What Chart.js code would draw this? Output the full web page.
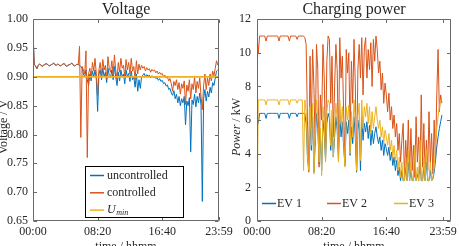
<!DOCTYPE html>
<html><head><meta charset="utf-8">
<script src="https://cdn.jsdelivr.net/npm/chart.js@4/dist/chart.umd.min.js"></script>
<style>
html,body{margin:0;padding:0;background:#fff;overflow:hidden}
#wrap{position:relative;width:459px;height:246px;background:#fff}
#c1{position:absolute;left:0;top:0}
#c2{position:absolute;left:229px;top:0}
</style></head><body>
<div id="wrap"><canvas id="c1" width="236" height="246"></canvas><canvas id="c2" width="230" height="246"></canvas></div>
<script>
// ---------- data ----------
const stepMinutes = 10; // sample spacing of every series below
const xTickValues = [0, 500, 1000, 1439];
const xTickLabels = ['00:00', '08:20', '16:40', '23:59'];
const voltTickValues = [0.65, 0.70, 0.75, 0.80, 0.85, 0.90, 0.95, 1.00];
const powerTickValues = [0, 2, 4, 6, 8, 10, 12];
const voltSeriesNames = ['uncontrolled', 'controlled'];
const evNames = ['EV 1', 'EV 2', 'EV 3'];
const uMin = 0.90;

const voltUncontrolled = [0.977,
0.921,0.919,0.914,0.920,0.922,0.921,0.918,0.920,0.921,0.923,
0.922,0.920,0.919,0.921,0.922,0.924,0.921,0.920,0.922,0.921,
0.919,0.920,0.922,0.923,0.921,0.918,0.920,0.921,0.922,0.924,
0.921,0.919,0.920,0.922,0.921,
0.920,0.918,0.915,0.905,0.900,0.912,0.895,0.885,0.905,0.893,
0.910,0.900,0.912,0.895,0.840,0.905,0.912,0.895,0.915,0.900,
0.908,0.890,0.915,0.902,0.898,0.912,0.895,0.918,0.900,0.885,
0.908,0.893,0.912,0.900,0.905,0.888,0.912,0.900,0.906,0.892,
0.910,0.895,0.900,0.882,0.905,0.875,0.895,0.880,0.900,0.903,
0.906,0.900,0.904,0.901,0.903,0.898,0.902,0.899,0.900,0.897,
0.899,0.894,0.897,0.892,0.894,0.888,0.890,0.884,0.886,0.878,
0.880,0.872,0.868,0.876,0.862,0.870,0.855,0.866,0.850,0.862,
0.855,0.866,0.817,0.858,0.850,0.864,0.770,0.860,0.852,0.870,
0.848,0.866,0.855,0.872,0.850,0.684,0.862,0.878,0.858,0.875,
0.865,0.882,0.872,0.890,0.885,0.898,0.910,0.912];

const voltControlled = [0.977,
0.921,0.919,0.914,0.920,0.922,0.921,0.918,0.920,0.921,0.923,
0.922,0.920,0.919,0.921,0.922,0.924,0.921,0.920,0.922,0.921,
0.919,0.920,0.922,0.923,0.921,0.918,0.920,0.921,0.922,0.924,
0.921,0.919,0.920,0.922,0.921,
0.953,0.795,0.918,0.912,0.905,0.945,0.760,0.905,0.915,0.898,
0.925,0.910,0.932,0.905,0.868,0.912,0.925,0.902,0.930,0.912,
0.920,0.896,0.935,0.915,0.908,0.928,0.903,0.938,0.912,0.895,
0.925,0.908,0.932,0.915,0.920,0.900,0.930,0.912,0.925,0.905,
0.932,0.910,0.918,0.895,0.928,0.905,0.922,0.912,0.920,0.915,
0.918,0.910,0.916,0.912,0.914,0.908,0.913,0.910,0.912,0.907,
0.910,0.905,0.908,0.904,0.906,0.900,0.903,0.898,0.900,0.893,
0.897,0.888,0.875,0.892,0.885,0.895,0.878,0.890,0.870,0.888,
0.880,0.893,0.852,0.886,0.875,0.895,0.862,0.888,0.878,0.900,
0.872,0.892,0.880,0.898,0.866,0.843,0.885,0.905,0.878,0.898,
0.885,0.905,0.893,0.910,0.902,0.915,0.928,0.920];

const ev1Power = [
6.4,5.8,6.4,6.4,6.4,6.4,6.4,6.1,6.4,6.4,
6.4,6.4,6.4,6.4,6.4,6.4,6.4,6.1,6.4,6.4,
6.4,6.4,6.4,6.4,6.4,6.1,6.4,6.4,6.4,6.4,
6.4,6.2,6.4,6.4,6.4,6.4,6.4,6.4,5.8,3.8,
3.0,6.0,4.2,6.2,2.9,4.6,6.4,5.5,3.4,5.0,
3.0,6.0,5.2,3.6,5.8,6.4,6.1,4.2,5.8,3.8,
5.0,6.2,5.4,3.6,6.3,5.0,5.9,4.4,3.3,5.9,
5.2,6.0,3.9,5.6,4.6,6.2,5.0,2.9,5.4,6.0,
3.0,6.2,4.8,5.8,5.3,5.9,4.9,5.7,4.5,5.4,
4.6,5.2,5.6,5.0,4.6,5.0,4.2,4.8,3.9,4.6,
4.3,3.9,4.4,3.6,4.1,3.3,3.8,3.0,3.6,2.7,
3.2,2.4,3.0,2.4,2.4,3.2,2.4,3.5,2.4,3.0,
2.4,2.4,3.8,2.4,2.8,2.4,3.9,2.4,2.4,3.2,
2.4,3.5,2.4,2.4,3.0,2.4,2.5,2.9,3.6,4.4,
5.0,5.5,5.9,6.3];

const ev2Power = [
11.0,10.0,11.0,11.0,11.0,11.0,11.0,10.7,11.0,11.0,
11.0,11.0,11.0,11.0,11.0,11.0,11.0,10.7,11.0,11.0,
11.0,11.0,11.0,11.0,11.0,10.7,11.0,11.0,11.0,11.0,
11.0,10.8,11.0,11.0,11.0,11.0,11.0,10.9,10.5,6.0,
2.9,9.8,5.5,10.2,8.0,4.5,10.5,9.0,3.2,7.5,
6.0,10.5,8.5,4.0,9.5,11.0,10.8,7.0,9.8,5.0,
8.0,10.5,9.0,4.2,10.9,8.5,9.8,6.5,3.5,10.2,
8.8,10.0,5.0,9.5,7.0,10.8,8.2,3.0,9.0,10.5,
8.5,10.9,7.5,10.3,10.9,8.5,10.2,9.0,10.6,8.0,
10.8,9.5,11.0,10.2,8.8,9.5,7.8,8.8,7.0,8.2,
7.5,6.5,7.6,6.0,6.8,5.5,6.3,5.0,5.8,4.2,
5.2,3.5,4.8,5.8,2.6,4.8,3.2,6.0,2.8,5.5,
3.0,4.5,2.6,6.2,3.5,5.0,2.8,7.5,3.2,5.8,
2.7,4.8,3.0,6.5,3.5,5.2,2.8,6.0,3.5,7.5,
10.2,6.5,7.5,7.0];

const ev3Power = [
0.0,7.2,7.2,7.2,7.2,7.2,7.2,6.9,7.2,7.2,
7.2,7.2,7.2,7.2,7.2,7.2,7.2,6.9,7.2,7.2,
7.2,7.2,7.2,7.2,7.2,6.9,7.2,7.2,7.2,7.2,
7.2,7.0,7.2,7.2,7.2,7.2,3.0,7.2,6.5,4.0,
3.0,6.8,4.5,7.0,2.8,5.0,7.2,6.2,3.5,5.5,
2.7,6.8,5.8,3.5,6.5,7.2,7.0,4.5,6.6,3.8,
5.5,7.0,6.0,3.5,7.2,5.8,6.8,4.8,3.2,6.8,
6.0,6.9,4.0,6.5,5.0,7.2,5.8,3.0,6.2,7.0,
3.6,7.2,5.5,6.8,6.2,7.0,5.8,6.8,5.2,6.5,
5.5,6.2,6.8,6.0,5.5,6.0,5.0,5.6,4.6,5.4,
5.0,4.5,5.2,4.2,4.8,3.8,4.5,3.5,4.2,3.0,
3.8,2.6,3.5,2.4,2.4,3.8,2.4,4.2,2.4,3.5,
2.4,2.4,4.5,2.4,3.2,2.4,4.8,2.4,2.4,3.8,
2.4,4.2,2.4,2.4,3.5,2.4,2.6,3.2,4.5,5.5,
6.2,6.8,7.2,7.2];

// ---------- styling ----------
const BLUE = '#0072BD', ORANGE = '#D95319', YELLOW = '#EDB120';
const TEXT = '#262626', FRAME = '#6a6a6a';
const SERIF = "'Liberation Serif','Times New Roman',serif";
Chart.defaults.font.family = SERIF;
Chart.defaults.color = TEXT;

function toPoints(values) { return values.map((v, i) => ({ x: i * stepMinutes, y: v })); }

const frameTicks = {
  id: 'frameTicks',
  afterDatasetsDraw(chart) {
    const { ctx, chartArea: a, scales: { x, y } } = chart;
    ctx.save();
    ctx.strokeStyle = FRAME; ctx.lineWidth = 1;
    const L = Math.round(a.left) + 0.5, R = Math.round(a.right) - 0.5,
          T = Math.round(a.top) + 0.5, B = Math.round(a.bottom) - 0.5;
    ctx.beginPath();
    ctx.rect(L, T, R - L, B - T);
    const len = 3.5;
    x.ticks.forEach(t => {
      const p = Math.round(x.getPixelForValue(t.value)) + 0.5;
      ctx.moveTo(p, B); ctx.lineTo(p, B - len);
      ctx.moveTo(p, T); ctx.lineTo(p, T + len);
    });
    y.ticks.forEach(t => {
      const p = Math.round(y.getPixelForValue(t.value)) + 0.5;
      ctx.moveTo(L, p); ctx.lineTo(L + len, p);
      ctx.moveTo(R, p); ctx.lineTo(R - len, p);
    });
    ctx.stroke();
    ctx.restore();
  }
};

const axisTitles = {
  id: 'axisTitles',
  afterDraw(chart, args, opts) {
    const { ctx, chartArea: a } = chart;
    ctx.save();
    ctx.fillStyle = TEXT; ctx.textBaseline = 'alphabetic';
    ctx.font = `12px ${SERIF}`; ctx.textAlign = 'center';
    ctx.fillText(opts.xTitle, (a.left + a.right) / 2, opts.xTitleY);
    ctx.translate(opts.yTitleX, opts.yTitleY);
    ctx.rotate(-Math.PI / 2);
    const parts = opts.yTitleParts.map(p => ({ text: p.text, font: `${p.italic ? 'italic ' : ''}12px ${SERIF}` }));
    let total = 0;
    parts.forEach(p => { ctx.font = p.font; p.w = ctx.measureText(p.text).width; total += p.w; });
    let xx = -total / 2; ctx.textAlign = 'left';
    parts.forEach(p => { ctx.font = p.font; ctx.fillText(p.text, xx, 0); xx += p.w; });
    ctx.restore();
  }
};

const voltLegend = {
  id: 'voltLegend',
  afterDraw(chart) {
    const ctx = chart.ctx;
    const ds = chart.data.datasets;
    ctx.save();
    ctx.fillStyle = '#fff';
    ctx.fillRect(85.5, 166.5, 98, 51);
    ctx.strokeStyle = '#000'; ctx.lineWidth = 1;
    ctx.strokeRect(85.5, 166.5, 98, 51);
    ds.forEach((d, k) => {
      const yy = 175.5 + k * 17.3;
      ctx.strokeStyle = d.borderColor; ctx.lineWidth = 1.5;
      ctx.beginPath(); ctx.moveTo(90, yy); ctx.lineTo(104, yy); ctx.stroke();
      ctx.fillStyle = TEXT; ctx.textAlign = 'left'; ctx.textBaseline = 'middle';
      if (d.subLabel) {
        ctx.font = `italic 12px ${SERIF}`;
        ctx.fillText(d.label, 107, yy);
        const w = ctx.measureText(d.label).width;
        ctx.font = `italic 8px ${SERIF}`;
        ctx.fillText(d.subLabel, 107 + w + 0.5, yy + 3);
      } else {
        ctx.font = `12px ${SERIF}`;
        ctx.fillText(d.label, 107, yy);
      }
    });
    ctx.restore();
  }
};

const evLegend = {
  id: 'evLegend',
  afterDraw(chart) {
    const ctx = chart.ctx;
    const ds = chart.data.datasets;
    const starts = [33, 98, 165];
    ctx.save();
    ds.forEach((d, k) => {
      const x0 = starts[k], yy = 203.5;
      ctx.strokeStyle = d.borderColor; ctx.lineWidth = 1.5;
      ctx.beginPath(); ctx.moveTo(x0, yy); ctx.lineTo(x0 + 14, yy); ctx.stroke();
      ctx.fillStyle = TEXT; ctx.font = `12px ${SERIF}`;
      ctx.textAlign = 'left'; ctx.textBaseline = 'middle';
      ctx.fillText(d.label, x0 + 15, yy);
    });
    ctx.restore();
  }
};

function xScale(max) {
  return {
    type: 'linear', min: 0, max: max,
    afterBuildTicks: s => { s.ticks = xTickValues.map(v => ({ value: v })); },
    ticks: {
      autoSkip: false, maxRotation: 0, padding: 4, color: TEXT,
      font: { size: 12, family: SERIF },
      callback: v => xTickLabels[xTickValues.indexOf(v)]
    },
    grid: { display: false, drawTicks: false },
    border: { display: false },
    afterFit: s => { s.height = 25; s.paddingLeft = 0; s.paddingRight = 0; }
  };
}
function yScale(min, max, values, width, pad, fmt) {
  return {
    min: min, max: max,
    afterBuildTicks: s => { s.ticks = values.map(v => ({ value: v })); },
    ticks: { padding: pad, color: TEXT, font: { size: 12, family: SERIF }, callback: fmt },
    grid: { display: false, drawTicks: false },
    border: { display: false },
    afterFit: s => { s.width = width; s.paddingTop = 0; s.paddingBottom = 0; }
  };
}
function titleOpts(text) {
  return { display: true, text: text, fullSize: false, color: TEXT,
           font: { size: 16, weight: 'normal', family: SERIF }, padding: { top: 0, bottom: 0 } };
}

new Chart(document.getElementById('c1'), {
  type: 'line',
  data: {
    datasets: [
      { label: voltSeriesNames[0], data: toPoints(voltUncontrolled), borderColor: BLUE, borderWidth: 1, pointRadius: 0, order: 2 },
      { label: voltSeriesNames[1], data: toPoints(voltControlled), borderColor: ORANGE, borderWidth: 1, pointRadius: 0, order: 1 },
      { label: 'U', subLabel: 'min', data: [{ x: xTickValues[0], y: uMin }, { x: xTickValues[3], y: uMin }],
        borderColor: YELLOW, borderWidth: 1.6, pointRadius: 0, order: 0 }
    ]
  },
  options: {
    responsive: false, animation: false, events: [],
    layout: { padding: { left: 0, right: 17, top: 0, bottom: 0 } },
    plugins: {
      legend: { display: false }, tooltip: { enabled: false },
      title: titleOpts('Voltage'),
      axisTitles: { xTitle: 'time / hhmm', xTitleY: 250, yTitleX: 6.5, yTitleY: 127,
                    yTitleParts: [{ text: 'Voltage / V', italic: false }] }
    },
    scales: {
      x: xScale(1439),
      y: yScale(0.65, 1.00, voltTickValues, 33, 5, v => Number(v).toFixed(2))
    }
  },
  plugins: [frameTicks, axisTitles, voltLegend]
});

new Chart(document.getElementById('c2'), {
  type: 'line',
  data: {
    datasets: [
      { label: evNames[0], data: toPoints(ev1Power), borderColor: BLUE, borderWidth: 1, pointRadius: 0, order: 2 },
      { label: evNames[1], data: toPoints(ev2Power), borderColor: ORANGE, borderWidth: 1, pointRadius: 0, order: 1 },
      { label: evNames[2], data: toPoints(ev3Power), borderColor: YELLOW, borderWidth: 1, pointRadius: 0, order: 0 }
    ]
  },
  options: {
    responsive: false, animation: false, events: [],
    layout: { padding: { left: 0, right: 8, top: 0, bottom: 0 } },
    plugins: {
      legend: { display: false }, tooltip: { enabled: false },
      title: titleOpts('Charging power'),
      axisTitles: { xTitle: 'time / hhmm', xTitleY: 250, yTitleX: 11, yTitleY: 127,
                    yTitleParts: [{ text: 'Power', italic: true }, { text: ' / kW', italic: false }] }
    },
    scales: {
      x: xScale(1500),
      y: yScale(0, 12, powerTickValues, 28, 6, v => String(v))
    }
  },
  plugins: [frameTicks, axisTitles, evLegend]
});
</script>
</body></html>
